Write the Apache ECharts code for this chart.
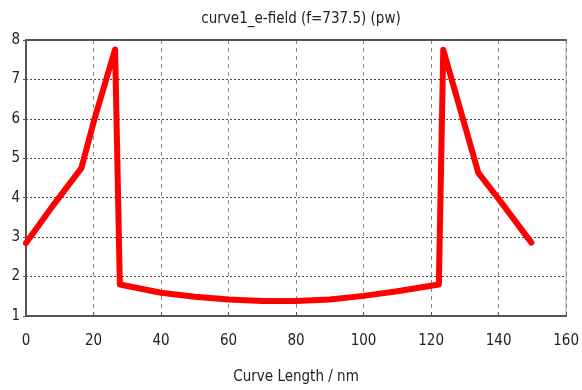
<!DOCTYPE html>
<html><head><meta charset="utf-8">
<script src="https://cdn.jsdelivr.net/npm/echarts@6/dist/echarts.min.js"></script>
<style>html,body{margin:0;padding:0;background:#fff}#c{width:582px;height:390px}</style>
</head><body><div id="c"></div>
<script>
const titleText = 'curve1_e-field (f=737.5) (pw)';
const xName = 'Curve Length / nm';
const xValues = [0, 8, 16.4, 20.3, 26.4, 27.8, 40, 50, 60, 70, 80, 90, 100, 110, 122.3, 123.6, 134, 140, 149.7];
const yValues = [2.85, 3.8, 4.75, 6.0, 7.76, 1.80, 1.59, 1.49, 1.42, 1.38, 1.38, 1.42, 1.51, 1.63, 1.80, 7.75, 4.63, 3.97, 2.86];
const font = "'Liberation Sans Narrow','Arial Narrow','DejaVu Sans Condensed','Roboto Condensed',sans-serif";
const chart = echarts.init(document.getElementById('c'));
chart.setOption({
  animation: false,
  title: {text: titleText, left: 296, top: 7, textAlign: 'center',
    textStyle: {fontFamily: font, fontSize: 15, fontWeight: 'normal', color: '#222'}},
  grid: {left: 26, right: 12, top: 40, bottom: 74, show: true, borderColor: '#aaa', borderWidth: 1},
  xAxis: [{type: 'value', min: 0, max: 160, interval: 20,
    name: xName, nameLocation: 'middle', nameGap: 54,
    nameTextStyle: {fontFamily: font, fontSize: 15, color: '#222'},
    axisLine: {show: true, onZero: false, lineStyle: {color: '#555', width: 2}},
    axisTick: {show: true, inside: true, length: 4, lineStyle: {color: '#555'}},
    axisLabel: {fontFamily: font, fontSize: 15, color: '#222', margin: 18},
    splitLine: {show: true, lineStyle: {color: '#888', type: [4, 4], width: 1}}},
   {type: 'value', position: 'top', min: 0, max: 160, interval: 20,
    axisLine: {show: true, onZero: false, lineStyle: {color: '#555', width: 2}},
    axisTick: {show: false}, axisLabel: {show: false}, splitLine: {show: false}}],
  yAxis: {type: 'value', min: 1, max: 8, interval: 1,
    axisLine: {show: true, lineStyle: {color: '#555', width: 2}},
    axisTick: {show: true, length: 3, lineStyle: {color: '#555'}},
    axisLabel: {fontFamily: font, fontSize: 15, color: '#222', margin: 6},
    splitLine: {show: true, lineStyle: {color: '#444', type: [2, 2], width: 1}}},
  series: [{type: 'line', data: xValues.map((x, i) => [x, yValues[i]]),
    showSymbol: false, lineStyle: {color: '#ff0000', width: 6, join: 'round', cap: 'round'},
    itemStyle: {color: '#ff0000'}}]
});
</script></body></html>
